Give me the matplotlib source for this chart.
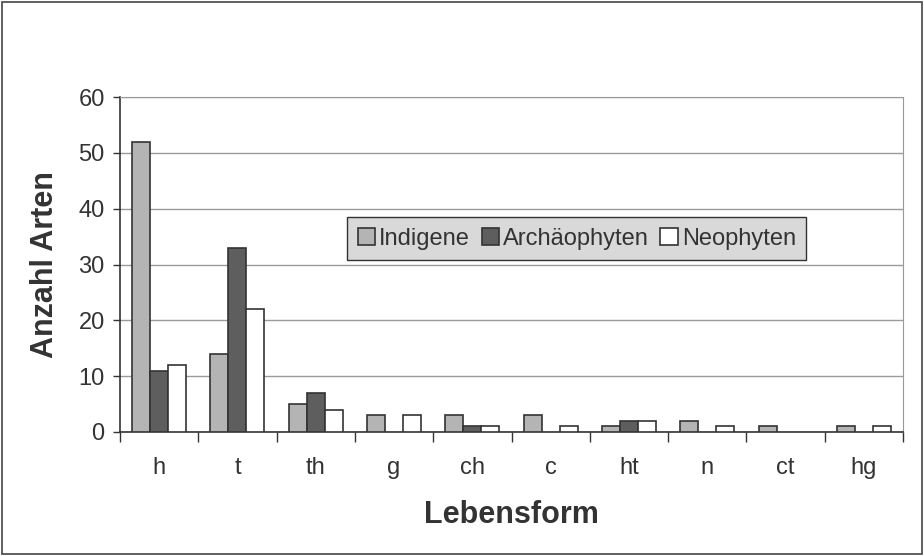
import numpy as np
from matplotlib import pyplot as plt

plt.rcParams['font.family'] = ['Liberation Sans', 'DejaVu Sans']

# Lebensformen und Artenzahlen
forms = ["h", "t", "th", "g", "ch", "c", "ht", "n", "ct", "hg"]
indigene = [52, 14, 5, 3, 3, 3, 1, 2, 1, 1]
archaeo = [11, 33, 7, 0, 1, 0, 2, 0, 0, 0]
neo = [12, 22, 4, 3, 1, 1, 2, 1, 0, 1]

fig = plt.figure(figsize=(9.24, 5.56), dpi=100)
fig.patch.set_facecolor("white")
ax = fig.add_axes([120/924, 1 - 432/556, 783/924, 335/556])

x = np.arange(len(forms))
w = 0.23

def draw_series(pos, vals, color, label):
    vals = np.array(vals, dtype=float)
    # leere Balken ohne Randlinie
    lw = np.where(vals > 0, 1.2, 0)
    ax.bar(pos, vals, w, color=color, edgecolor="#333333", linewidth=lw,
           label=label, zorder=3)

draw_series(x - w, indigene, "#b4b4b4", "Indigene")
draw_series(x, archaeo, "#5e5e5e", "Archäophyten")
draw_series(x + w, neo, "white", "Neophyten")

ax.set_xlim(-0.5, len(forms) - 0.5)
ax.set_ylim(0, 60)
ax.set_yticks(range(0, 61, 10))
ax.yaxis.grid(True, color="#9a9a9a", linewidth=1.0, zorder=0)
ax.tick_params(axis="y", labelsize=17, colors="#333333", length=5, width=1, pad=6)

# Kategoriebeschriftungen mittig, Striche an den Gruppengrenzen
ax.set_xticks(x)
ax.set_xticklabels(forms, fontsize=17, color="#333333")
ax.tick_params(axis="x", length=0, pad=18)
ax.set_xticks(np.arange(-0.5, len(forms)), minor=True)
ax.tick_params(axis="x", which="minor", length=7, width=1, color="#333333")

for s in ["left", "bottom"]:
    ax.spines[s].set_color("#333333")
    ax.spines[s].set_linewidth(1.2)
for s in ["top", "right"]:
    ax.spines[s].set_color("#999999")
    ax.spines[s].set_linestyle((0, (1, 1)))

ax.set_ylabel("Anzahl Arten", fontsize=22, fontweight="bold", color="#333333",
              labelpad=13)
ax.set_xlabel("Lebensform", fontsize=22, fontweight="bold", color="#333333",
              labelpad=15)

leg = ax.legend(loc="upper left", bbox_to_anchor=(227/783, (432 - 217)/335),
                borderaxespad=0, ncol=3, fontsize=17, frameon=True, fancybox=False,
                handlelength=0.75, handleheight=0.75, handletextpad=0.15,
                columnspacing=0.5, borderpad=0.45, labelcolor="#333333")
leg.get_frame().set_facecolor("#d9d9d9")
leg.get_frame().set_edgecolor("#333333")
leg.get_frame().set_alpha(1)

# Rahmen um die ganze Abbildung
fig.add_artist(plt.Rectangle((0.002, 0.003), 0.996, 0.993, transform=fig.transFigure,
                             fill=False, edgecolor="#444444", linewidth=1.2))

fig.savefig("out.png", dpi=100)
